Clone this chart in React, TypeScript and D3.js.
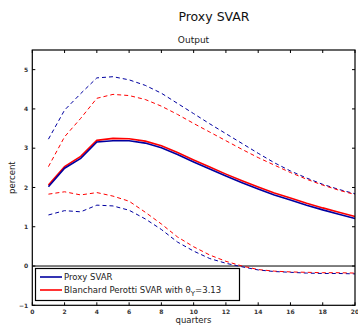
import React from "react";
import * as d3 from "d3";

const quarters = d3.range(1, 21);
const proxySvar = [2.02, 2.49, 2.74, 3.16, 3.19, 3.19, 3.13, 3.01, 2.84, 2.65, 2.47, 2.29, 2.12, 1.96, 1.81, 1.68, 1.55, 1.43, 1.32, 1.21];
const bpSvar = [2.06, 2.53, 2.79, 3.2, 3.25, 3.24, 3.18, 3.06, 2.89, 2.7, 2.52, 2.34, 2.17, 2.01, 1.86, 1.73, 1.6, 1.48, 1.37, 1.26];
const proxyUpper = [3.23, 3.97, 4.39, 4.79, 4.82, 4.74, 4.6, 4.4, 4.14, 3.88, 3.62, 3.37, 3.12, 2.87, 2.63, 2.42, 2.24, 2.08, 1.95, 1.84];
const proxyLower = [1.3, 1.41, 1.38, 1.55, 1.53, 1.42, 1.2, 0.93, 0.61, 0.38, 0.19, 0.07, -0.02, -0.1, -0.14, -0.16, -0.18, -0.19, -0.19, -0.2];
const bpUpper = [2.53, 3.29, 3.76, 4.27, 4.37, 4.34, 4.24, 4.07, 3.86, 3.63, 3.41, 3.19, 2.97, 2.76, 2.57, 2.38, 2.21, 2.06, 1.93, 1.82];
const bpLower = [1.83, 1.89, 1.81, 1.87, 1.78, 1.65, 1.37, 1.07, 0.74, 0.49, 0.28, 0.12, 0.0, -0.09, -0.13, -0.15, -0.16, -0.17, -0.17, -0.18];
const xTicks = d3.range(0, 21, 2);
const yTicks = [-1, 0, 1, 2, 3, 4, 5];

const BLUE = "#0000a0";
const RED = "#ff0000";
const FONT = "'DejaVu Sans', sans-serif";

export default function App() {
  const W = 358, H = 326;
  const x = d3.scaleLinear().domain([0, 20]).range([32.3, 355]);
  const y = d3.scaleLinear().domain([-1, 5.5]).range([305.3, 50]);
  const line = (vals: number[]) =>
    d3.line<number>().x((_, i) => x(quarters[i])).y((d) => y(d))(vals) || "";
  const tl = 3;
  return (
    <svg width={W} height={H} style={{ position: "absolute", left: 0, top: 0, background: "#fff" }} fontFamily={FONT}>
      <rect x={0} y={0} width={W} height={H} fill="#fff" />
      <text x={214} y={21} textAnchor="middle" fontSize={12.5} fill="#111">Proxy SVAR</text>
      <text x={193.5} y={43} textAnchor="middle" fontSize={9} fill="#222">Output</text>
      {/* zero line */}
      <line x1={x(0)} x2={x(20)} y1={y(0)} y2={y(0)} stroke="#000" strokeWidth={1} />
      {/* series */}
      <path d={line(proxyUpper)} fill="none" stroke={BLUE} strokeWidth={1} strokeDasharray="4,3" />
      <path d={line(proxyLower)} fill="none" stroke={BLUE} strokeWidth={1} strokeDasharray="4,3" />
      <path d={line(bpUpper)} fill="none" stroke={RED} strokeWidth={1} strokeDasharray="4,3" />
      <path d={line(bpLower)} fill="none" stroke={RED} strokeWidth={1} strokeDasharray="4,3" />
      <path d={line(bpSvar)} fill="none" stroke={RED} strokeWidth={1.6} />
      <path d={line(proxySvar)} fill="none" stroke={BLUE} strokeWidth={1.6} />
      {/* axes box */}
      <rect x={x(0)} y={y(5.5)} width={x(20) - x(0)} height={y(-1) - y(5.5)} fill="none" stroke="#000" strokeWidth={1.2} />
      {xTicks.map((t) => (
        <g key={"x" + t}>
          <line x1={x(t)} x2={x(t)} y1={y(-1)} y2={y(-1) - tl} stroke="#000" />
          <line x1={x(t)} x2={x(t)} y1={y(5.5)} y2={y(5.5) + tl} stroke="#000" />
          <text x={x(t)} y={y(-1) + 9} textAnchor="middle" fontSize={6} fontWeight="bold" fill="#333">{t}</text>
        </g>
      ))}
      {yTicks.map((t) => (
        <g key={"y" + t}>
          <line x1={x(0)} x2={x(0) + tl} y1={y(t)} y2={y(t)} stroke="#000" />
          <line x1={x(20)} x2={x(20) - tl} y1={y(t)} y2={y(t)} stroke="#000" />
          <text x={x(0) - 4} y={y(t) + 2.2} textAnchor="end" fontSize={6} fontWeight="bold" fill="#333">{t < 0 ? "\u2212" + Math.abs(t) : t}</text>
        </g>
      ))}
      <text transform={`translate(15,${(y(-1) + y(5.5)) / 2}) rotate(-90)`} textAnchor="middle" fontSize={8.5} fill="#222">percent</text>
      <text x={193.5} y={323} textAnchor="middle" fontSize={8.5} fill="#222">quarters</text>
      {/* legend */}
      <rect x={35.5} y={268.5} width={204} height={32} fill="#fff" stroke="#000" strokeWidth={1.2} />
      <line x1={40} x2={62} y1={277} y2={277} stroke={BLUE} strokeWidth={1.6} />
      <text x={64} y={280} fontSize={8.5} fill="#222">Proxy SVAR</text>
      <line x1={40} x2={62} y1={290} y2={290} stroke={RED} strokeWidth={1.6} />
      <text x={64} y={293} fontSize={8.5} fill="#222">
        Blanchard Perotti SVAR with θ<tspan dy={2.5} fontSize={7}>Y</tspan><tspan dy={-2.5}>=3.13</tspan>
      </text>
    </svg>
  );
}
